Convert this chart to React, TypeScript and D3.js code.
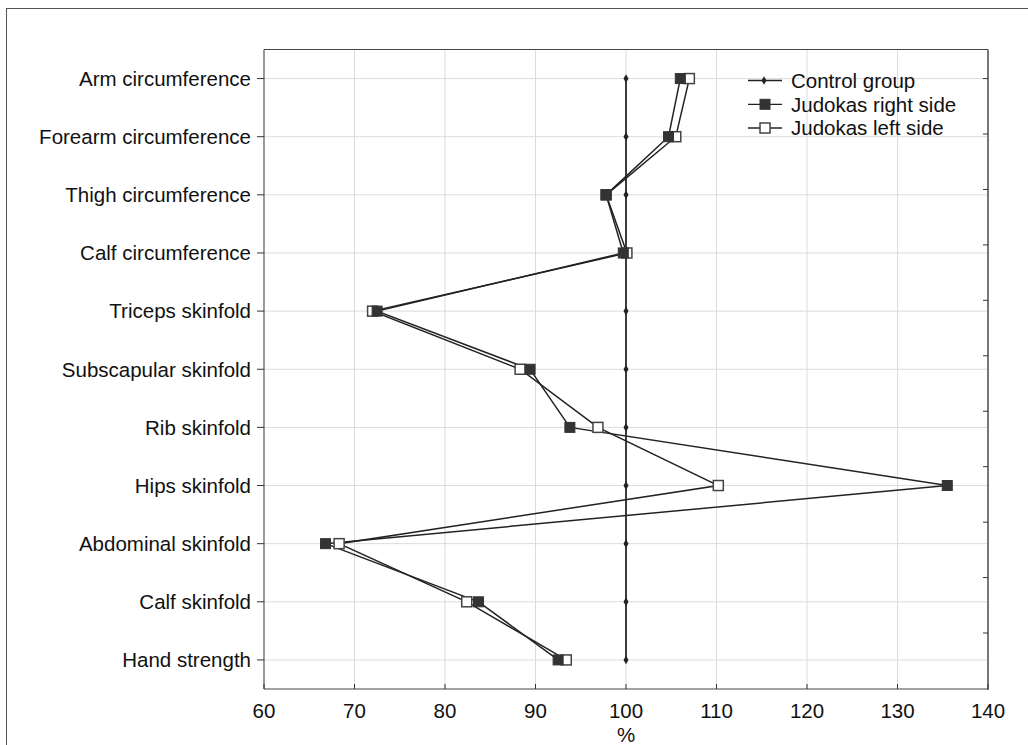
import React from "react";
import * as d3 from "d3";

const categories = [
  "Arm circumference",
  "Forearm circumference",
  "Thigh circumference",
  "Calf circumference",
  "Triceps skinfold",
  "Subscapular skinfold",
  "Rib skinfold",
  "Hips skinfold",
  "Abdominal skinfold",
  "Calf skinfold",
  "Hand strength",
];
const controlGroup = [100, 100, 100, 100, 100, 100, 100, 100, 100, 100, 100];
const judokasRight = [106.0, 104.7, 97.8, 99.7, 72.5, 89.4, 93.8, 135.5, 66.8, 83.7, 92.5];
const judokasLeft = [107.0, 105.5, 97.8, 100.1, 72.0, 88.3, 96.9, 110.2, 68.3, 82.4, 93.4];
const xTicks = [60, 70, 80, 90, 100, 110, 120, 130, 140];
const rightTicks = [0, 1, 2, 3, 4, 5, 6, 7, 8, 9, 10];
const legendItems = ["Control group", "Judokas right side", "Judokas left side"];
const xTitle = "%";

const W = 1028;
const H = 745;
const plot = { left: 264, top: 49.5, right: 988, bottom: 689 };
const FONT = "'Liberation Sans', Arial, sans-serif";
const FS = 20.5;

export default function App() {
  const x = d3.scaleLinear().domain([60, 140]).range([plot.left, plot.right]);
  const y = d3
    .scaleBand<string>()
    .domain(categories)
    .range([plot.top, plot.bottom])
    .paddingInner(0)
    .paddingOuter(0);
  const cy = (c: string) => (y(c) as number) + y.bandwidth() / 2;
  const yRight = d3
    .scaleLinear()
    .domain([0, 10])
    .range([cy(categories[0]), cy(categories[0]) + (plot.bottom - plot.top) * 0.867]);

  const line = d3
    .line<number>()
    .x((d) => x(d))
    .y((_, i) => cy(categories[i]));

  const diamond = d3.symbol().type(d3.symbolDiamond).size(22)() as string;
  const sq = 10;

  const legX = 748;
  const legY = [80.5, 104.3, 128];

  return (
    <svg
      width={W}
      height={H}
      style={{ position: "absolute", left: 0, top: 0, display: "block", background: "#fff" }}
      fontFamily={FONT}
    >
      <rect x={6.5} y={8.5} width={1100} height={800} fill="#fff" stroke="#555" strokeWidth={1} />

      {/* gridlines */}
      {xTicks.slice(1, -1).map((t) => (
        <line key={"gx" + t} x1={x(t)} x2={x(t)} y1={plot.top} y2={plot.bottom} stroke="#dcdcdc" strokeWidth={1} />
      ))}
      {categories.map((c) => (
        <line key={"gy" + c} x1={plot.left} x2={plot.right} y1={cy(c)} y2={cy(c)} stroke="#dcdcdc" strokeWidth={1} />
      ))}

      {/* plot border */}
      <line x1={plot.left} x2={plot.right} y1={plot.top} y2={plot.top} stroke="#444" strokeWidth={1} />
      <line x1={plot.left} x2={plot.right} y1={plot.bottom} y2={plot.bottom} stroke="#444" strokeWidth={1.2} />
      <line x1={plot.left} x2={plot.left} y1={plot.top} y2={plot.bottom} stroke="#555" strokeWidth={1.2} />
      <line x1={plot.right} x2={plot.right} y1={plot.top} y2={plot.bottom + 1} stroke="#777" strokeWidth={2} />

      {/* left ticks + labels */}
      {categories.map((c) => (
        <g key={"yl" + c}>
          <line x1={plot.left - 7} x2={plot.left} y1={cy(c)} y2={cy(c)} stroke="#333" strokeWidth={1} />
          <text x={251} y={cy(c)} dy="0.36em" textAnchor="end" fontSize={FS} fill="#111">
            {c}
          </text>
        </g>
      ))}
      {/* right ticks */}
      {rightTicks.map((t) => (
        <line key={"yr" + t} x1={plot.right - 5} x2={plot.right} y1={yRight(t)} y2={yRight(t)} stroke="#333" strokeWidth={1} />
      ))}
      {/* bottom ticks + labels */}
      {xTicks.map((t) => (
        <g key={"xt" + t}>
          <line x1={x(t)} x2={x(t)} y1={plot.bottom - 5} y2={plot.bottom} stroke="#333" strokeWidth={1} />
          <text x={x(t)} y={plot.bottom + 29} textAnchor="middle" fontSize={FS} fill="#111">
            {t}
          </text>
        </g>
      ))}
      <text x={x(100)} y={plot.bottom + 53} textAnchor="middle" fontSize={FS} fill="#111">
        {xTitle}
      </text>

      {/* control group */}
      <path d={line(controlGroup) as string} fill="none" stroke="#000" strokeWidth={1.5} />
      {controlGroup.map((v, i) => (
        <path key={"cd" + i} d={diamond} transform={`translate(${x(v)},${cy(categories[i])})`} fill="#222" />
      ))}

      {/* judokas left side */}
      <path d={line(judokasLeft) as string} fill="none" stroke="#222" strokeWidth={1.5} />
      {/* judokas right side line */}
      <path d={line(judokasRight) as string} fill="none" stroke="#222" strokeWidth={1.5} />
      {judokasLeft.map((v, i) => (
        <rect
          key={"jl" + i}
          x={x(v) - sq / 2}
          y={cy(categories[i]) - sq / 2}
          width={sq}
          height={sq}
          fill="#fff"
          stroke="#444"
          strokeWidth={1.5}
        />
      ))}
      {judokasRight.map((v, i) => (
        <rect
          key={"jr" + i}
          x={x(v) - sq / 2}
          y={cy(categories[i]) - sq / 2}
          width={sq}
          height={sq}
          fill="#333"
          stroke="#333"
          strokeWidth={1}
        />
      ))}

      {/* legend */}
      {legendItems.map((name, i) => (
        <g key={"lg" + i}>
          <line x1={legX} x2={legX + 34} y1={legY[i]} y2={legY[i]} stroke="#222" strokeWidth={1.3} />
          {i === 0 && <path d={diamond} transform={`translate(${legX + 16},${legY[i]})`} fill="#222" />}
          {i === 1 && (
            <rect x={legX + 17 - sq / 2} y={legY[i] - sq / 2} width={sq} height={sq} fill="#333" stroke="#333" />
          )}
          {i === 2 && (
            <rect
              x={legX + 17 - sq / 2}
              y={legY[i] - sq / 2}
              width={sq}
              height={sq}
              fill="#fff"
              stroke="#444"
              strokeWidth={1.5}
            />
          )}
          <text x={legX + 43} y={legY[i]} dy="0.36em" fontSize={FS} fill="#111">
            {name}
          </text>
        </g>
      ))}
    </svg>
  );
}
